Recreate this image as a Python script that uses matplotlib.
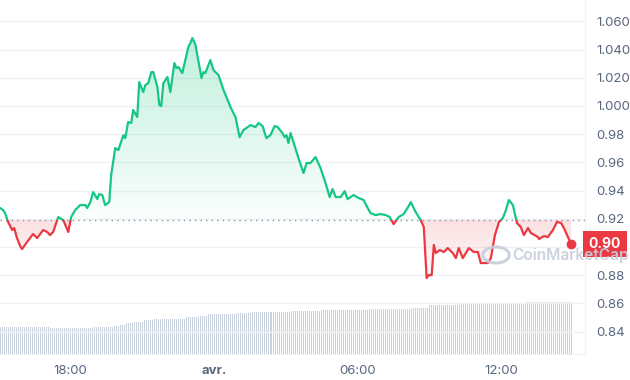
import numpy as np
import matplotlib
matplotlib.use("Agg")
import matplotlib.pyplot as plt
from matplotlib.patches import Rectangle, Circle
from matplotlib.path import Path

# price readings: hours since midnight of day 1 (24 = midnight "avr.")
hours = [15.07, 15.20, 15.28, 15.41, 15.58, 15.66, 15.78, 15.91, 15.99, 16.20,
         16.45, 16.62, 16.87, 17.04, 17.16, 17.29, 17.50, 17.71, 17.92, 18.04,
         18.21, 18.42, 18.63, 18.71, 18.84, 18.96, 19.13, 19.21, 19.34, 19.46,
         19.63, 19.71, 19.88, 20.01, 20.22, 20.30, 20.42, 20.55, 20.63, 20.80,
         20.88, 21.05, 21.14, 21.26, 21.39, 21.47, 21.64, 21.72, 21.80, 21.89,
         22.06, 22.18, 22.35, 22.43, 22.52, 22.68, 22.93, 23.02, 23.10, 23.23,
         23.48, 23.56, 23.64, 23.85, 23.98, 24.19, 24.40, 24.61, 24.69, 24.90,
         25.07, 25.23, 25.53, 25.73, 25.86, 26.03, 26.19, 26.36, 26.53, 26.66,
         26.86, 26.95, 27.03, 27.11, 27.20, 27.32, 27.53, 27.74, 27.87, 28.03,
         28.24, 28.45, 28.66, 28.83, 28.95, 29.08, 29.29, 29.46, 29.58, 29.83,
         30.04, 30.25, 30.42, 30.54, 30.75, 30.96, 31.17, 31.34, 31.50, 31.71,
         31.92, 32.13, 32.22, 32.42, 32.63, 32.76, 32.88, 32.97, 33.09, 33.18,
         33.26, 33.43, 33.60, 33.76, 33.97, 34.10, 34.22, 34.39, 34.64, 34.85,
         35.02, 35.14, 35.44, 35.56, 35.73, 35.90, 36.06, 36.19, 36.31, 36.48,
         36.65, 36.81, 36.94, 37.11, 37.23, 37.53, 37.57, 37.78, 37.94, 38.15,
         38.32, 38.49, 38.61, 38.78, 38.91]
prices = [0.9276, 0.9262, 0.9240, 0.9177, 0.9120, 0.9134, 0.9063, 0.9007, 0.8985, 0.9035,
          0.9092, 0.9063, 0.9120, 0.9106, 0.9084, 0.9106, 0.9212, 0.9191, 0.9106, 0.9212,
          0.9262, 0.9297, 0.9297, 0.9276, 0.9318, 0.9389, 0.9340, 0.9375, 0.9368, 0.9297,
          0.9318, 0.9510, 0.9701, 0.9687, 0.9793, 0.9772, 0.9886, 0.9879, 0.9971, 0.9921,
          1.0169, 1.0098, 1.0148, 1.0162, 1.0240, 1.0240, 1.0134, 1.0006, 0.9999, 1.0162,
          1.0205, 1.0098, 1.0304, 1.0268, 1.0276, 1.0233, 1.0417, 1.0446, 1.0481, 1.0432,
          1.0198, 1.0240, 1.0233, 1.0325, 1.0254, 1.0219, 1.0113, 1.0027, 0.9992, 0.9921,
          0.9779, 0.9829, 0.9864, 0.9850, 0.9879, 0.9857, 0.9772, 0.9793, 0.9857, 0.9850,
          0.9808, 0.9779, 0.9793, 0.9737, 0.9808, 0.9744, 0.9630, 0.9524, 0.9595, 0.9595,
          0.9638, 0.9560, 0.9453, 0.9354, 0.9411, 0.9354, 0.9354, 0.9396, 0.9340, 0.9368,
          0.9347, 0.9333, 0.9276, 0.9240, 0.9226, 0.9233, 0.9226, 0.9212, 0.9162, 0.9212,
          0.9233, 0.9290, 0.9318, 0.9248, 0.9191, 0.9141, 0.8780, 0.8801, 0.8801, 0.9014,
          0.8957, 0.8978, 0.8964, 0.8992, 0.8957, 0.8921, 0.8992, 0.8921, 0.8992, 0.8964,
          0.8964, 0.8886, 0.8886, 0.8921, 0.9084, 0.9177, 0.9205, 0.9262, 0.9333, 0.9297,
          0.9170, 0.9141, 0.9084, 0.9134, 0.9099, 0.9070, 0.9056, 0.9077, 0.9070, 0.9120,
          0.9177, 0.9170, 0.9134, 0.9070, 0.9021]
baseline = 0.919

# volume step levels (start hour, level)
vol_start = [15.07, 17.08, 18.96, 19.80, 20.01, 20.30, 20.63, 21.05, 21.47, 21.97,
             22.81, 23.31, 23.73, 24.15, 24.90, 25.53, 27.20, 27.62, 28.45, 30.42,
             32.22, 32.97, 34.31, 36.06, 37.07]
vol_level = [27.3, 26.0, 27.3, 28.5, 29.3, 30.7, 32.5, 34.0, 35.0, 35.3,
             37.0, 38.3, 39.7, 40.3, 41.0, 42.0, 42.7, 43.0, 44.0, 44.7,
             46.3, 48.7, 50.0, 51.0, 51.7]

ytick_vals = [1.06, 1.04, 1.02, 1.00, 0.98, 0.96, 0.94, 0.92, 0.90, 0.88, 0.86, 0.84]
ytick_labels = ["1.060", "1.040", "1.020", "1.000", "0.98", "0.96", "0.94", "0.92",
                "0.90", "0.88", "0.86", "0.84"]
xtick_vals = [18, 24, 30, 36]
xtick_labels = ["18:00", "avr.", "06:00", "12:00"]

GREEN = "#16c784"
RED = "#ea3943"
GRAY = "#58667e"

plt.rcParams['font.family'] = ['Inter', 'DejaVu Sans']

fig = plt.figure(figsize=(6.3, 3.8), dpi=100)
ax = fig.add_axes([0.0, 26 / 380, 585 / 630, 354 / 380])
xlim = (15.07, 39.49)
ylim = (0.8241, 1.0751)

# volume bars on a hidden twin axis, thin 1px stripes
vax = ax.twinx()
bar_x = np.arange(hours[0], hours[-1] + 0.001, 1 / 12)
idx = np.searchsorted(vol_start, bar_x, side="right") - 1
bar_h = np.array(vol_level)[idx]
vax.vlines(bar_x, 0, bar_h, color="#c9d1dd", lw=0.72, antialiased=False)
vax.set_ylim(0, 354)
vax.set_axis_off()
ax.set_zorder(vax.get_zorder() + 1)
ax.patch.set_visible(False)

for v in ytick_vals:
    ax.axhline(v, color="#eff2f5", lw=1, zorder=0)

x = np.array(hours)
y = np.array(prices)

# gradient fills clipped to the area between line and baseline
up = ax.fill_between(x, y, baseline, where=y >= baseline, interpolate=True,
                     color="none", lw=0)
dn = ax.fill_between(x, y, baseline, where=y <= baseline, interpolate=True,
                     color="none", lw=0)

n = 256
g = np.zeros((n, 1, 4))
g[..., 0:3] = matplotlib.colors.to_rgb(GREEN)
g[:, 0, 3] = np.linspace(0.02, 0.32, n)
im_up = ax.imshow(g, extent=[xlim[0], xlim[1], baseline, ylim[1]], origin="lower",
                  aspect="auto", zorder=1, interpolation="bilinear")
im_up.set_clip_path(Path.make_compound_path(*up.get_paths()), ax.transData)

r = np.zeros((n, 1, 4))
r[..., 0:3] = matplotlib.colors.to_rgb(RED)
r[:, 0, 3] = np.linspace(0.0, 0.16, n)
im_dn = ax.imshow(r, extent=[xlim[0], xlim[1], 0.872, baseline], origin="lower",
                  aspect="auto", zorder=1, interpolation="bilinear")
im_dn.set_clip_path(Path.make_compound_path(*dn.get_paths()), ax.transData)

ax.axhline(baseline, color="#8a94a6", lw=1, linestyle=(0, (1, 3)), zorder=2)

# line split in two colours at the baseline
lg, = ax.plot(x, y, color=GREEN, lw=1.6, zorder=3, solid_joinstyle="round")
lg.set_clip_path(Rectangle((xlim[0], baseline), xlim[1] - xlim[0], 1,
                           transform=ax.transData))
lr, = ax.plot(x, y, color=RED, lw=1.6, zorder=3, solid_joinstyle="round")
lr.set_clip_path(Rectangle((xlim[0], 0), xlim[1] - xlim[0], baseline,
                           transform=ax.transData))
ax.plot(x[-1], y[-1], "o", color=RED, ms=6, zorder=4)

ax.set_xlim(*xlim)
ax.set_ylim(*ylim)
ax.yaxis.tick_right()
ax.set_yticks(ytick_vals)
ax.set_yticklabels(ytick_labels)
ax.set_xticks(xtick_vals)
ax.set_xticklabels(xtick_labels)
ax.get_xticklabels()[1].set_fontweight("bold")
ax.tick_params(axis="y", length=0, pad=8, labelsize=9.5, labelcolor=GRAY)
ax.tick_params(axis="x", length=0, pad=8, labelsize=9.5, labelcolor=GRAY)
for lbl in ax.get_yticklabels():
    lbl.set_horizontalalignment("left")
# the 0.90 grid label sits under the current-price tag
ax.get_yticklabels()[ytick_labels.index("0.90")].set_visible(False)
for s in ["top", "left"]:
    ax.spines[s].set_visible(False)
for s in ["right", "bottom"]:
    ax.spines[s].set_color("#eff2f5")

# current price tag
ax.annotate("0.90", xy=(1.0, y[-1]), xycoords=("axes fraction", "data"),
            xytext=(2.5, 0), textcoords="offset points", va="center", ha="left",
            fontsize=10, fontweight="bold", color="white",
            bbox=dict(boxstyle="square,pad=0.42", fc=RED, ec="none"),
            annotation_clip=False, zorder=5)

# watermark
fig.text(512 / 630, 1 - 255 / 380, "CoinMarketCap", fontsize=11.2,
         fontweight="semibold", color="#c6cedb", alpha=0.9, va="center", ha="left",
         zorder=10)
fig.patches.append(Circle((496 / 630, 1 - 255 / 380), 8 / 380, transform=fig.transFigure,
                          fill=False, ec="#c6cedb", alpha=0.9, lw=2.2, zorder=10))

fig.savefig("out.png", dpi=100)
